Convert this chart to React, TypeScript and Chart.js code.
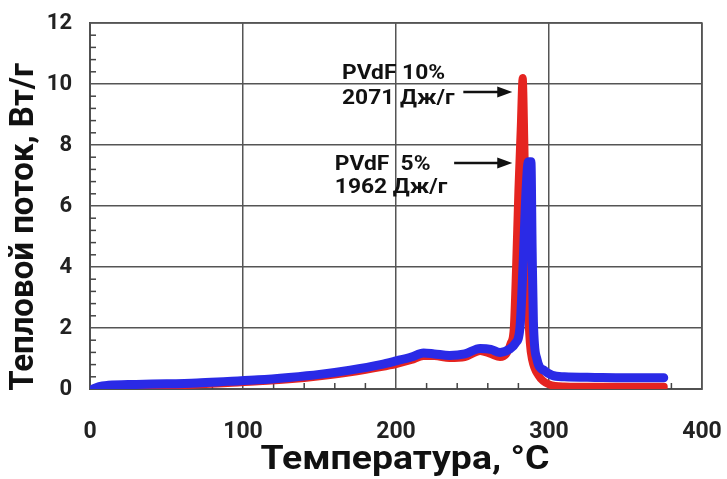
import React, { useEffect, useRef } from "react";
import { Chart, registerables } from "chart.js";

Chart.register(...registerables);

// PVdF 10% (red)
const temp10 = [2, 6, 12, 30, 50, 70, 90, 110, 130, 150, 170, 190, 200, 210, 218, 225, 235, 245, 255, 262, 268, 272, 275, 277, 278.5, 280, 281.5, 282.8, 283.9, 285, 286, 287.5, 289, 293, 300, 310, 330, 350, 375];
const flow10 = [0, 0.05, 0.08, 0.1, 0.12, 0.15, 0.2, 0.25, 0.32, 0.42, 0.55, 0.72, 0.82, 0.95, 1.08, 1.08, 1.02, 1.05, 1.25, 1.15, 1.05, 1.15, 1.5, 2.0, 4.0, 6.5, 8.5, 10.2, 8.0, 5.0, 3.0, 1.5, 0.95, 0.45, 0.15, 0.08, 0.07, 0.07, 0.07];

// PVdF 5% (blue)
const temp5 = [2, 6, 12, 30, 50, 70, 90, 110, 130, 150, 170, 190, 200, 210, 218, 225, 235, 245, 255, 262, 268, 274, 278, 281, 283, 285, 286.5, 288.2, 289, 289.8, 292, 297, 302, 310, 330, 350, 375];
const flow5 = [0, 0.08, 0.12, 0.15, 0.17, 0.2, 0.25, 0.3, 0.38, 0.48, 0.62, 0.8, 0.92, 1.05, 1.18, 1.15, 1.1, 1.15, 1.33, 1.3, 1.2, 1.3, 1.5, 2.0, 4.0, 6.5, 7.45, 7.45, 4.5, 2.2, 1.0, 0.6, 0.45, 0.4, 0.38, 0.37, 0.37];

const xTicks = [0, 100, 200, 300, 400];
const yTicks = [0, 2, 4, 6, 8, 10, 12];

const xTitle = "Температура, °С";
const yTitle = "Тепловой поток, Вт/г";

// annotation texts [label, x, y] in data units
const noteLabels = ["PVdF 10%", "2071 Дж/г", "PVdF  5%", "1962 Дж/г"];
const noteX = [164.7, 164.7, 160, 160];
const noteY = [10.16, 9.34, 7.18, 6.43];
// arrows: from x, to x, at y
const arrowFrom = [244, 238];
const arrowTo = [276, 276];
const arrowY = [9.74, 7.41];

const FONT = "Roboto, 'DejaVu Sans', sans-serif";

export default function App() {
  const ref = useRef<HTMLCanvasElement | null>(null);

  useEffect(() => {
    const canvas = ref.current;
    if (!canvas) return;

    const stretchText = (ctx: any, text: string, x: number, y: number, sx: number) => {
      ctx.save();
      ctx.translate(x, y);
      ctx.scale(sx, 1);
      ctx.fillText(text, 0, 0);
      ctx.restore();
    };

    const extras = {
      id: "extras",
      beforeDatasetsDraw(chart: any) {
        const { ctx, chartArea } = chart;
        const xs = chart.scales.x;
        const ys = chart.scales.y;
        ctx.save();
        // frame
        ctx.strokeStyle = "#555";
        ctx.lineWidth = 1.5;
        ctx.strokeRect(chartArea.left, chartArea.top, chartArea.right - chartArea.left, chartArea.bottom - chartArea.top);
        // minor ticks
        ctx.strokeStyle = "#444";
        ctx.lineWidth = 1.5;
        for (let v = 0; v <= 400; v += 20) {
          if (v % 100 === 0) continue;
          const px = xs.getPixelForValue(v);
          ctx.beginPath();
          ctx.moveTo(px, chartArea.bottom);
          ctx.lineTo(px, chartArea.bottom - 6);
          ctx.stroke();
        }
        for (let i = 0; i <= 30; i++) {
          const v = i * 0.4;
          if (i % 5 === 0) continue;
          const py = ys.getPixelForValue(v);
          ctx.beginPath();
          ctx.moveTo(chartArea.left, py);
          ctx.lineTo(chartArea.left + 6, py);
          ctx.stroke();
        }
        ctx.restore();
      },
      afterDatasetsDraw(chart: any) {
        const { ctx } = chart;
        const xs = chart.scales.x;
        const ys = chart.scales.y;
        ctx.save();
        ctx.fillStyle = "#111";
        ctx.font = `bold 20px ${FONT}`;
        ctx.textAlign = "left";
        ctx.textBaseline = "alphabetic";
        noteLabels.forEach((t, i) => {
          stretchText(ctx, t, xs.getPixelForValue(noteX[i]), ys.getPixelForValue(noteY[i]), 1.14);
        });
        ctx.strokeStyle = "#111";
        ctx.lineWidth = 2.5;
        arrowFrom.forEach((f, i) => {
          const x0 = xs.getPixelForValue(f);
          const x1 = xs.getPixelForValue(arrowTo[i]);
          const y = ys.getPixelForValue(arrowY[i]);
          ctx.beginPath();
          ctx.moveTo(x0, y);
          ctx.lineTo(x1 - 10, y);
          ctx.stroke();
          ctx.beginPath();
          ctx.moveTo(x1, y);
          ctx.lineTo(x1 - 15, y - 5.5);
          ctx.lineTo(x1 - 15, y + 5.5);
          ctx.closePath();
          ctx.fill();
        });
        // axis titles
        ctx.fillStyle = "#111";
        ctx.textAlign = "center";
        ctx.textBaseline = "middle";
        ctx.font = `bold 34px ${FONT}`;
        stretchText(ctx, xTitle, 405, 460, 1.1);
        ctx.translate(25, 227);
        ctx.rotate(-Math.PI / 2);
        ctx.font = `bold 33px ${FONT}`;
        ctx.fillText(yTitle, 0, 0);
        ctx.restore();
      },
    };

    const chart = new Chart(canvas, {
      type: "line",
      data: {
        datasets: [
          {
            label: "PVdF 5%",
            data: temp5.map((t, i) => ({ x: t, y: flow5[i] })),
            borderColor: "#2a2ae6",
            borderWidth: 9,
            pointRadius: 0,
            cubicInterpolationMode: "monotone",
            borderCapStyle: "round",
            borderJoinStyle: "round",
          },
          {
            label: "PVdF 10%",
            data: temp10.map((t, i) => ({ x: t, y: flow10[i] })),
            borderColor: "#e52420",
            borderWidth: 8,
            pointRadius: 0,
            cubicInterpolationMode: "monotone",
            borderCapStyle: "round",
            borderJoinStyle: "round",
          },
        ],
      },
      options: {
        responsive: false,
        animation: false,
        layout: { padding: { top: 23, right: 25, left: 0, bottom: 0 } },
        plugins: { legend: { display: false }, tooltip: { enabled: false } },
        scales: {
          x: {
            type: "linear",
            min: 0,
            max: 400,
            afterFit: (s: any) => { s.height = 90; s.paddingLeft = 0; s.paddingRight = 0; },
            afterBuildTicks: (s: any) => { s.ticks = xTicks.map((v) => ({ value: v })); },
            ticks: { color: "#222", font: { family: FONT, size: 23, weight: "bold" }, padding: 29, maxRotation: 0 },
            grid: { color: "#555", lineWidth: 1.5, drawTicks: false },
            border: { color: "#444", width: 2 },
          },
          y: {
            type: "linear",
            min: 0,
            max: 12,
            afterFit: (s: any) => { s.width = 90; s.paddingTop = 0; s.paddingBottom = 0; },
            afterBuildTicks: (s: any) => { s.ticks = yTicks.map((v) => ({ value: v })); },
            ticks: { color: "#222", font: { family: FONT, size: 22, weight: "bold" }, padding: 18 },
            grid: { color: "#555", lineWidth: 1.5, drawTicks: false },
            border: { color: "#444", width: 2 },
          },
        },
      },
      plugins: [extras],
    } as any);

    return () => chart.destroy();
  }, []);

  return (
    <div style={{ position: "fixed", left: 0, top: 0, width: 727, height: 479, background: "#fff" }}>
      <canvas ref={ref} width={727} height={479} style={{ display: "block" }} />
    </div>
  );
}
